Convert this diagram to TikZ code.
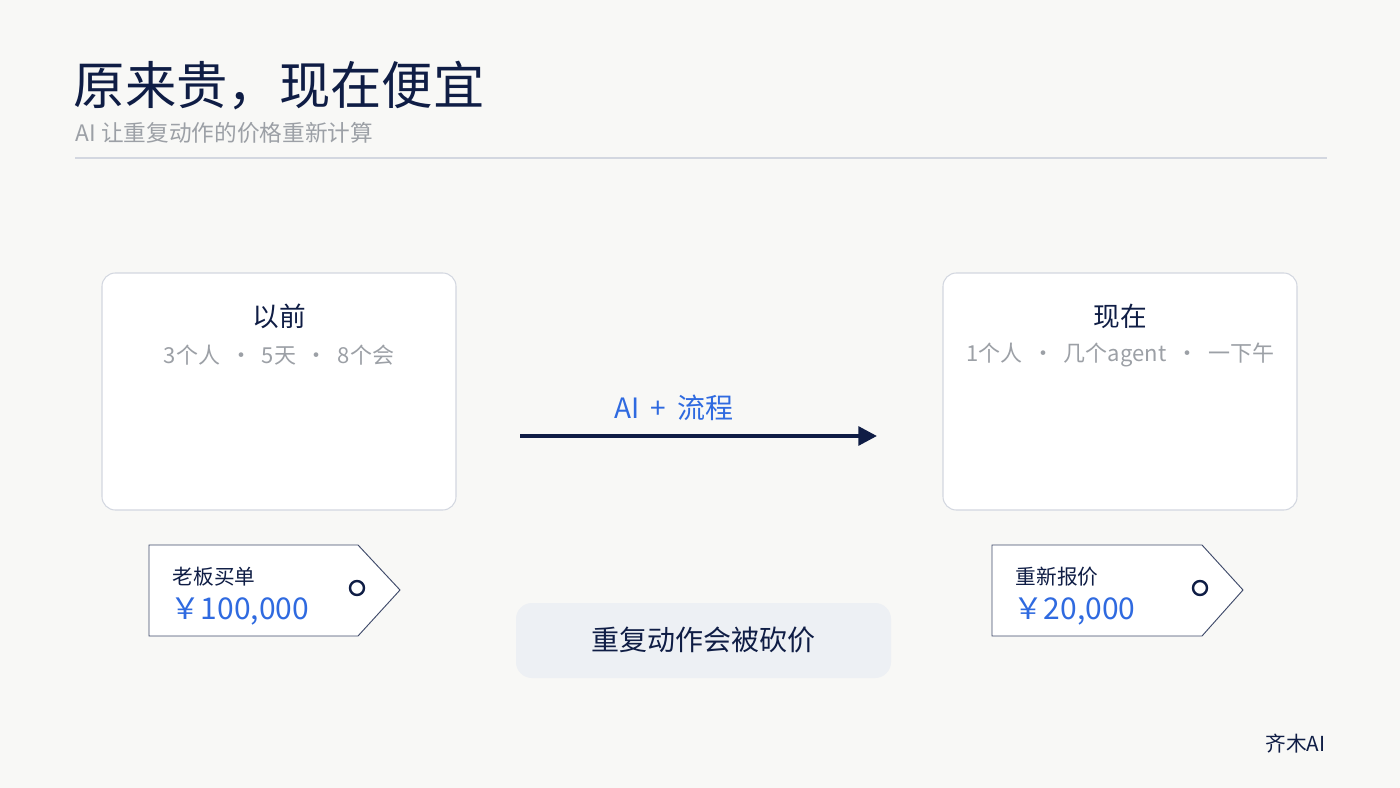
\documentclass[tikz,border=0pt]{standalone}
\usepackage{fontspec}
\usetikzlibrary{arrows.meta}
\setmainfont{Noto Sans CJK SC}
\definecolor{navy}{HTML}{0F1D45}
\definecolor{blu}{HTML}{2F6AE0}
\definecolor{gry}{HTML}{9CA0A6}
\definecolor{bg}{HTML}{F8F8F6}
\definecolor{bord}{HTML}{D3D7E0}
\definecolor{pill}{HTML}{EDF0F4}
\begin{document}
\begin{tikzpicture}[x=0.75pt,y=-0.75pt,
  card/.style={draw=bord,fill=white,rounded corners=10pt,line width=0.8pt},
  tagshape/.style={draw=navy!80,fill=white,line width=0.7pt},
  ttl/.style={text=navy,font=\fontsize{20}{24}\selectfont},
  sub/.style={text=gry,font=\fontsize{16.5}{20}\selectfont},
  tagtxt/.style={text=navy,font=\fontsize{15.5}{18}\selectfont,anchor=west},
  price/.style={text=blu,font=\fontsize{22.5}{26}\selectfont,anchor=west}]
\fill[bg] (0,0) rectangle (1400,788);
\useasboundingbox (0,0) rectangle (1400,788);
\node[anchor=west,text=navy,font=\fontsize{38.5}{44}\selectfont] (title) at (69,86) {原来贵，现在便宜};
\node[anchor=west,text=gry,font=\fontsize{17}{20}\selectfont] (subt) at (71,133) {AI 让重复动作的价格重新计算};
\draw[bord,line width=0.8pt] (75,158) -- (1327,158);
\draw[card] (102,273) rectangle (456,510);
\draw[card] (943,273) rectangle (1297,510);
\node[ttl] (lt) at (279,316) {以前};
\node[sub] (ls) at (279,355) {3个人 \ · \ 5天 \ · \ 8个会};
\node[ttl] (rt) at (1120,316) {现在};
\node[sub] (rs) at (1120,355) {1个人 \ · \ 几个agent \ · \ 一下午};
\coordinate (a1) at (520,436); \coordinate (a2) at (877,436);
\draw[navy,line width=3pt,-{Triangle[length=14pt,width=14pt]}] (a1) -- (a2);
\node[text=blu,font=\fontsize{21}{25}\selectfont] (al) at (674,408) {AI \,+\, 流程};
\draw[tagshape] (149,545) -- (358,545) -- (400,590) -- (358,636) -- (149,636) -- cycle;
\draw[navy,line width=1.8pt] (357,588) circle (7);
\node[tagtxt] (t1) at (168,577) {老板买单};
\node[price] (p1) at (166,611) {￥100,000};
\draw[tagshape] (992,545) -- (1202,545) -- (1243,590) -- (1202,636) -- (992,636) -- cycle;
\draw[navy,line width=1.8pt] (1200,588) circle (7);
\node[tagtxt] (t2) at (1011,577) {重新报价};
\node[price] (p2) at (1009,611) {￥20,000};
\fill[pill,rounded corners=12pt] (516,603) rectangle (891,678);
\node[text=navy,font=\fontsize{21}{25}\selectfont] (pl) at (703,640) {重复动作会被砍价};
\node[anchor=east,text=navy,font=\fontsize{15.5}{18}\selectfont] (ft) at (1330,744) {齐木AI};
\end{tikzpicture}
\end{document}
